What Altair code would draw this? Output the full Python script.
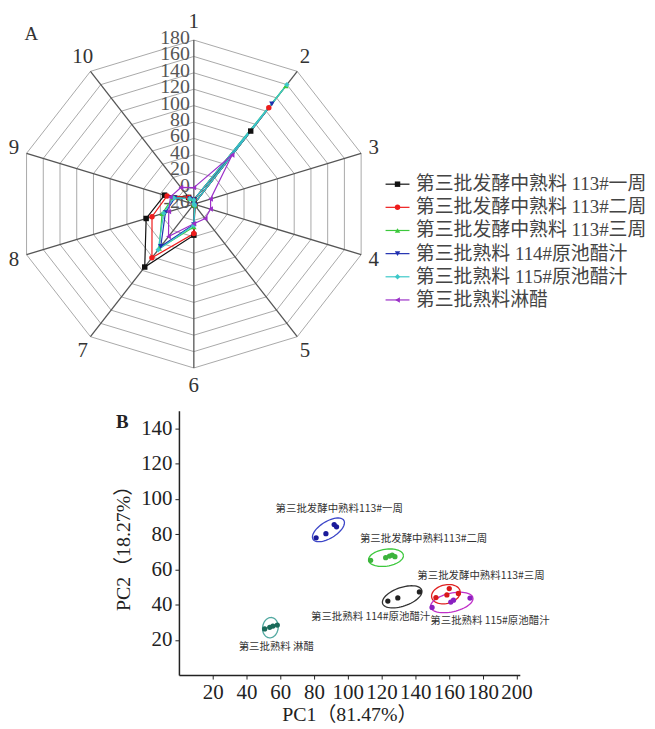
import altair as alt
import pandas as pd

SERIF = "Liberation Serif, Noto Sans CJK SC"
CJK = "Noto Sans CJK SC"

# ---------------- Panel A : radar ----------------
AXES = [1, 2, 3, 4, 5, 6, 7, 8, 9, 10]
AXIS_LABELS = ["1", "2", "3", "4", "5", "6", "7", "8", "9", "10"]
RING_VALUES = [-20, 0, 20, 40, 60, 80, 100, 120, 140, 160, 180]
R_MIN, R_MAX = -20, 180

SERIES = ["第三批发酵中熟料 113#一周", "第三批发酵中熟料 113#二周", "第三批发酵中熟料 113#三周",
          "第三批熟料 114#原池醋汁", "第三批熟料 115#原池醋汁", "第三批熟料淋醋"]
COLORS = ["#111111", "#ee1c1c", "#3cc83c", "#1f2fb0", "#3cc8c8", "#9b30c8"]
SHAPES = ["square", "circle", "triangle-up", "triangle-down", "diamond", "triangle-left"]

VAL_1 = [-15, 90, -20, -20, -18, 18, 75, 37, 15, -10]
VAL_2 = [-15, 125, -20, -20, -18, 16, 61, 30, 12, -10]
VAL_3 = [-15, 158, -20, -20, -18, 8, 47, 18, 5, -12]
VAL_4 = [-15, 131, -20, -20, -18, 5, 44, 14, 3, -12]
VAL_5 = [-15, 160, -20, -20, -18, 6, 49, 16, 4, -12]
VAL_6 = [0, 54, 0, 0, 2, 4, 29, 10, 8, 5]
VALUES = [VAL_1, VAL_2, VAL_3, VAL_4, VAL_5, VAL_6]

n_ax = len(AXES)
rows = []
for s, vals in zip(SERIES, VALUES):
    for k in range(1, n_ax + 2):
        rows.append({"series": s, "pos": k, "value": vals[(k - 1) % n_ax]})
df_series = pd.DataFrame(rows)

ring_rows = []
for lvl in RING_VALUES[1:]:
    for k in range(1, n_ax + 2):
        ring_rows.append({"level": lvl, "pos": k, "value": lvl})
df_rings = pd.DataFrame(ring_rows)

df_axes = pd.DataFrame({"pos": AXES, "label": AXIS_LABELS, "value": [R_MAX] * n_ax})
df_ticks = pd.DataFrame({"value": RING_VALUES, "label": [str(v) for v in RING_VALUES]})
df_legend = pd.DataFrame({"series": SERIES, "idx": list(range(len(SERIES)))})

AX = alt.Scale(domain=[-186 / 177, 454 / 177], nice=False, zero=False)
AY = alt.Scale(domain=[-198 / 165, 194 / 165], nice=False, zero=False)

geo = dict(
    ang=f"PI/2 - (datum.pos-1)*2*PI/{n_ax}",
    r=f"(datum.value - ({R_MIN}))/({R_MAX}-({R_MIN}))",
    px="datum.r*cos(datum.ang)",
    py="datum.r*sin(datum.ang)",
)

col = alt.Color("series:N", scale=alt.Scale(domain=SERIES, range=COLORS), legend=None)
shp = alt.Shape("series:N", scale=alt.Scale(domain=SERIES, range=SHAPES), legend=None)

rings = alt.Chart(df_rings).transform_calculate(**geo).mark_line(
    color="#a8a8a8", strokeWidth=1).encode(
    x=alt.X("px:Q", scale=AX, axis=None), y=alt.Y("py:Q", scale=AY, axis=None),
    detail="level:N", order="pos:Q")

spokes = alt.Chart(df_axes).transform_calculate(**geo).transform_calculate(
    zero="0").mark_rule(color="#555555", strokeWidth=1.3).encode(
    x=alt.X("zero:Q", scale=AX, axis=None), y=alt.Y("zero:Q", scale=AY, axis=None),
    x2="px:Q", y2="py:Q")

spoke_labels = alt.Chart(df_axes).transform_calculate(**geo).transform_calculate(
    lx="1.075*datum.px", ly="1.11*datum.py").mark_text(
    font=SERIF, fontSize=21, color="#333333", align="center", baseline="middle").encode(
    x=alt.X("lx:Q", scale=AX, axis=None), y=alt.Y("ly:Q", scale=AY, axis=None), text="label:N")

tick_labels = alt.Chart(df_ticks).transform_calculate(
    lx="-0.022", ly=f"(datum.value - ({R_MIN}))/({R_MAX}-({R_MIN}))").mark_text(
    font=SERIF, fontSize=20, color="#555555", align="right", baseline="middle", dy=-2).encode(
    x=alt.X("lx:Q", scale=AX, axis=None), y=alt.Y("ly:Q", scale=AY, axis=None), text="label:N")

lines = alt.Chart(df_series).transform_calculate(**geo).mark_line(strokeWidth=1.2).encode(
    x=alt.X("px:Q", scale=AX, axis=None), y=alt.Y("py:Q", scale=AY, axis=None),
    color=col, detail="series:N", order="pos:Q")

points = alt.Chart(df_series).transform_filter(f"datum.pos <= {n_ax}").transform_calculate(
    **geo).mark_point(filled=True, size=30, opacity=1).encode(
    x=alt.X("px:Q", scale=AX, axis=None), y=alt.Y("py:Q", scale=AY, axis=None),
    color=col, shape=shp)

leg_base = alt.Chart(df_legend).transform_calculate(
    ly="0.121 - 0.1412*datum.idx", lx1="1.09", lx2="1.226", mx="1.158", tx="1.262")
leg_rule = leg_base.mark_rule(strokeWidth=1.2).encode(
    x=alt.X("lx1:Q", scale=AX, axis=None), x2="lx2:Q",
    y=alt.Y("ly:Q", scale=AY, axis=None), color=col)
leg_pt = leg_base.mark_point(filled=True, size=30, opacity=1).encode(
    x=alt.X("mx:Q", scale=AX, axis=None), y=alt.Y("ly:Q", scale=AY, axis=None),
    color=col, shape=shp)
leg_txt = leg_base.mark_text(font=SERIF, fontSize=19, color="#444444", align="left",
                             baseline="middle").encode(
    x=alt.X("tx:Q", scale=AX, axis=None), y=alt.Y("ly:Q", scale=AY, axis=None),
    text="series:N")

label_a = alt.Chart(pd.DataFrame({"t": ["A"]})).mark_text(
    font=SERIF, fontSize=19, color="#333333", align="center", baseline="middle").encode(
    x=alt.value(22.5), y=alt.value(23), text="t:N")

chart_a = alt.layer(rings, spokes, tick_labels, spoke_labels, lines, points,
                    leg_rule, leg_pt, leg_txt, label_a).properties(width=640, height=392)

# ---------------- Panel B : PCA ----------------
GROUPS = ["一周", "二周", "三周", "114", "115", "淋醋"]
PT_COLORS = ["#1a1a9a", "#3cb43c", "#d81818", "#222222", "#8a20c0", "#1a6a5a"]
ELL_COLORS = ["#3c46c8", "#3cc83c", "#e02020", "#333333", "#c030c8", "#50a8a0"]

PC1_X = [[81.3, 87.1, 92.0, 93.4],
         [113.6, 122.5, 124.8, 126.4, 128.0],
         [152.3, 158.8, 160.2, 165.6],
         [123.8, 129.7, 142.5],
         [150.0, 161.1, 162.7, 172.5],
         [50.8, 53.8, 55.7, 58.3]]
PC2_Y = [[77.9, 80.2, 85.4, 84.1],
         [65.1, 66.6, 67.5, 68.1, 67.2],
         [44.0, 45.5, 49.1, 46.3],
         [42.0, 43.8, 47.2],
         [38.4, 41.4, 42.5, 43.7],
         [26.2, 27.1, 27.8, 28.4]]

ELL_CX = [88.6, 122.7, 158.2, 132.3, 161.7, 54.2]
ELL_CY = [82.4, 66.6, 45.9, 44.4, 41.2, 26.9]
ELL_A = [10.6, 10.4, 8.6, 12.2, 12.8, 5.8]
ELL_B = [4.8, 4.8, 5.3, 5.3, 5.3, 4.6]
ELL_PHI = [30, 8, 12, 18, 12, 80]

LABELS = ["第三批发酵中熟料113#一周", "第三批发酵中熟料113#二周", "第三批发酵中熟料113#三周",
          "第三批熟料 114#原池醋汁", "第三批熟料 115#原池醋汁", "第三批熟料 淋醋"]
LAB_X = [95.0, 145.0, 179.0, 113.6, 184.3, 57.7]
LAB_Y = [94.4, 77.1, 56.3, 32.7, 30.5, 15.8]

X_TICKS = [20, 40, 60, 80, 100, 120, 140, 160, 180, 200]
Y_TICKS = [20, 40, 60, 80, 100, 120, 140]

pt_rows = []
for g, xs, ys in zip(GROUPS, PC1_X, PC2_Y):
    for xv, yv in zip(xs, ys):
        pt_rows.append({"group": g, "pc1": xv, "pc2": yv})
df_pts = pd.DataFrame(pt_rows)

ell_rows = []
for g, cx, cy, a, b, phi in zip(GROUPS, ELL_CX, ELL_CY, ELL_A, ELL_B, ELL_PHI):
    for t in range(0, 361, 6):
        ell_rows.append({"egroup": g, "cx": cx, "cy": cy, "a": a, "b": b, "phi": phi, "t": t})
df_ell = pd.DataFrame(ell_rows)

df_lab = pd.DataFrame({"label": LABELS, "pc1": LAB_X, "pc2": LAB_Y})

BX = alt.Scale(domain=[0, 202], nice=False, zero=False)
BY = alt.Scale(domain=[0, 150], nice=False, zero=False)

x_axis = alt.Axis(values=X_TICKS, title="PC1（81.47%）", titleFont=SERIF, titleFontSize=20,
                  titleFontWeight="normal", titleColor="#222222", titlePadding=2,
                  labelFont=SERIF, labelFontSize=21, labelColor="#222222", labelPadding=3,
                  labelOverlap=False, labelFlush=False, labelBound=False,
                  domainColor="#222222", domainWidth=1.5,
                  tickColor="#222222", tickSize=4, grid=False)
y_axis = alt.Axis(values=Y_TICKS, title="PC2（18.27%）", titleFont=SERIF, titleFontSize=20,
                  titleFontWeight="normal", titleColor="#222222", titlePadding=8,
                  labelFont=SERIF, labelFontSize=21, labelColor="#222222", labelPadding=3,
                  labelOverlap=False, domainColor="#222222", domainWidth=1.5,
                  tickColor="#222222", tickSize=4, grid=False, minExtent=38, maxExtent=38)

ellipses = alt.Chart(df_ell).transform_calculate(
    tr="datum.t*PI/180", pr="datum.phi*PI/180").transform_calculate(
    ex="datum.cx + datum.a*cos(datum.tr)*cos(datum.pr) - datum.b*sin(datum.tr)*sin(datum.pr)",
    ey="datum.cy + datum.a*cos(datum.tr)*sin(datum.pr) + datum.b*sin(datum.tr)*cos(datum.pr)",
).mark_line(strokeWidth=1.3).encode(
    x=alt.X("ex:Q", scale=BX, axis=x_axis), y=alt.Y("ey:Q", scale=BY, axis=y_axis),
    color=alt.Color("egroup:N", scale=alt.Scale(domain=GROUPS, range=ELL_COLORS), legend=None),
    detail="egroup:N", order="t:Q")

pts = alt.Chart(df_pts).mark_circle(size=28, opacity=1).encode(
    x=alt.X("pc1:Q", scale=BX, axis=x_axis), y=alt.Y("pc2:Q", scale=BY, axis=y_axis),
    color=alt.Color("group:N", scale=alt.Scale(domain=GROUPS, range=PT_COLORS), legend=None))

labs = alt.Chart(df_lab).mark_text(font=CJK, fontSize=10.5, color="#333333",
                                   align="center", baseline="middle").encode(
    x=alt.X("pc1:Q", scale=BX, axis=x_axis), y=alt.Y("pc2:Q", scale=BY, axis=y_axis),
    text="label:N")

label_b = alt.Chart(pd.DataFrame({"t": ["B"]})).mark_text(
    font=SERIF, fontSize=19, fontWeight="bold", color="#222222", align="center",
    baseline="middle").encode(x=alt.value(-57), y=alt.value(11), text="t:N")

chart_b = alt.layer(ellipses, pts, labs, label_b).resolve_scale(
    color="independent").properties(width=343, height=266)

spacer = alt.Chart(pd.DataFrame({"a": [0]})).mark_point(size=0, opacity=0).encode(
    x=alt.value(50), y=alt.value(50)).properties(width=105, height=266)

chart = alt.vconcat(chart_a, alt.hconcat(spacer, chart_b, spacing=0), spacing=10).properties(
    padding=0).configure_view(stroke=None).configure_axis(labelOverlap=False)

chart.save("out.html", embed_options={"renderer": "svg", "actions": False})
